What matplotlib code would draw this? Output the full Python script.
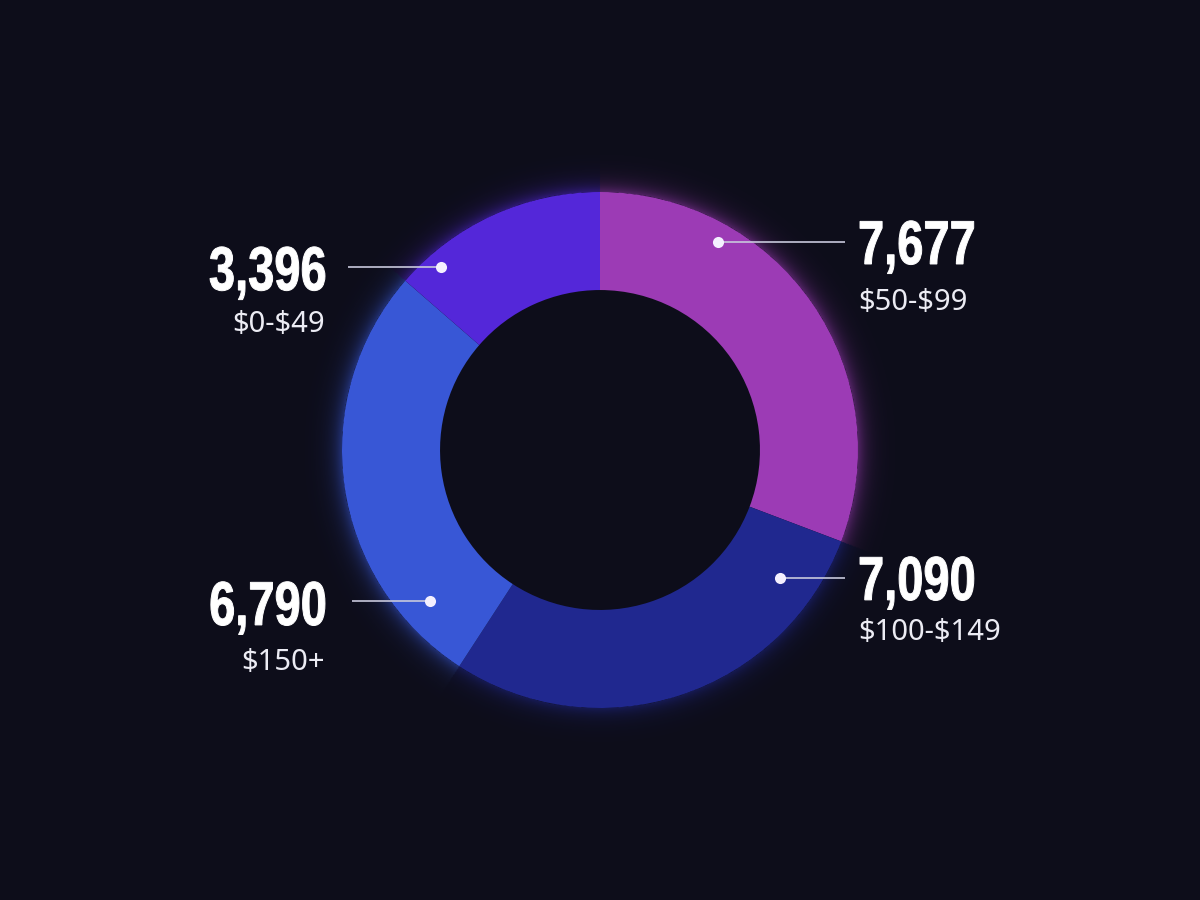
"""
価格帯別の件数をドーナツグラフで描く(暗い背景・発光風)。
"""

import numpy as np
import matplotlib.pyplot as plt
from matplotlib.colors import to_rgb
from matplotlib.font_manager import FontProperties
from matplotlib.patches import PathPatch
from matplotlib.textpath import TextPath
from matplotlib.transforms import Affine2D

# データ(12時の位置から時計回り)
labels = ["$50-$99", "$100-$149", "$150+", "$0-$49"]
counts = [7677, 7090, 6790, 3396]
colors = ["#9c3bb5", "#20288f", "#3857d6", "#5427d9"]

BG = "#0d0d1a"
INNER = 0.62  # 穴の半径(外径=1)

# ラベルの配置(データ座標, 外径=1)
# (数値の基準x, 揃え, 数値のベースライン, 小ラベルのベースライン, 線の外端x, 点のx, 線のy)
label_layout = [
    (1.000, "left", 0.721, 0.543, 0.950, 0.457, 0.806),
    (1.000, "left", -0.581, -0.736, 0.950, 0.698, -0.496),
    (-1.066, "right", -0.678, -0.853, -0.961, -0.659, -0.585),
    (-1.066, "right", 0.620, 0.457, -0.977, -0.616, 0.709),
]

NUM_PROP = FontProperties(family=["Liberation Sans", "DejaVu Sans"], weight="bold")
NUM_SIZE = 0.24      # 文字サイズ(データ単位)
NUM_SQUEEZE = 0.76   # 横方向の圧縮率(コンデンス書体風)
SUB_FONT = ["Source Sans Pro", "Noto Sans", "DejaVu Sans"]


def draw_glow(ax, extent=1.2, n=700, strength=0.5, falloff=0.035):
    """外周の発光。各画素の角度から区間の色を決め、外側ほど薄くする。"""
    g = np.linspace(-extent, extent, n)
    xx, yy = np.meshgrid(g, g)
    dist = np.hypot(xx, yy)
    theta = np.mod(90 - np.degrees(np.arctan2(yy, xx)), 360) / 360
    bounds = np.cumsum(counts) / np.sum(counts)
    idx = np.clip(np.searchsorted(bounds, theta, side="right"), 0, len(counts) - 1)
    rgb = np.array([to_rgb(c) for c in colors])[idx]
    alpha = np.where(dist > 1.0, strength * np.exp(-(dist - 1.0) / falloff), 0.0)
    img = np.dstack([rgb, alpha])
    ax.imshow(img, extent=(-extent, extent, -extent, extent), origin="lower",
              interpolation="bilinear", zorder=0)


def draw_donut(ax):
    draw_glow(ax)
    ax.pie(counts, colors=colors, startangle=90, counterclock=False,
           radius=1.0, wedgeprops=dict(width=1.0 - INNER, linewidth=0))


def condensed_number(ax, x, y, s, ha):
    """横に詰めた太字の数値を PathPatch で描く。"""
    tp = TextPath((0, 0), s, size=NUM_SIZE, prop=NUM_PROP)
    ext = tp.get_extents()
    width = ext.x1 * NUM_SQUEEZE
    x0 = x if ha == "left" else x - width
    path = Affine2D().scale(NUM_SQUEEZE, 1).translate(x0, y).transform_path(tp)
    ax.add_patch(PathPatch(path, facecolor="white", edgecolor="white", lw=0.7, zorder=7))


def draw_labels(ax):
    for value, name, lay in zip(counts, labels, label_layout):
        x, ha, y_num, y_sub, x_line, x_dot, y_line = lay
        condensed_number(ax, x, y_num, f"{value:,}", ha)
        ax.text(x, y_sub, name, ha=ha, va="baseline", color="#ececf4",
                fontsize=21, fontweight="light", family=SUB_FONT, parse_math=False)
        ax.plot([x_dot, x_line], [y_line, y_line], color="#c8c8dc", lw=1.2,
                solid_capstyle="butt", zorder=5)
        ax.plot(x_dot, y_line, "o", ms=8, color="#f4f0ff", mec="none", zorder=6)


fig = plt.figure(figsize=(12, 9), dpi=100, facecolor=BG)
ax = fig.add_axes([0, 0, 1, 1])
ax.set_facecolor(BG)
draw_donut(ax)
draw_labels(ax)
ax.set_xlim(-600 / 258, 600 / 258)
ax.set_ylim(-450 / 258, 450 / 258)
ax.set_aspect("equal")
ax.axis("off")
fig.savefig("out.png", dpi=100, facecolor=BG)
